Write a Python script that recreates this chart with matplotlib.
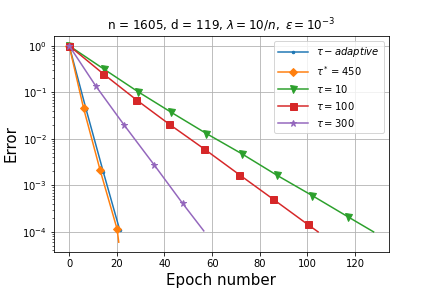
import matplotlib
matplotlib.use("Agg")
import matplotlib.pyplot as plt
import numpy as np

# Data (epoch, error)
adaptive_x = [0, 7.1, 14.3, 21.2]
adaptive_y = [1.0, 4.3e-2, 1.95e-3, 1.1e-4]

star_x = [0, 6.0, 13.0, 20.1, 20.8]
star_y = [1.0, 4.6e-2, 2.1e-3, 1.15e-4, 6.0e-5]

t10_x = [0, 14.4, 28.9, 42.9, 57.6, 72.4, 87.2, 102.1, 117.1, 127.8]
t10_y = [1.0, 3.2e-1, 1.03e-1, 3.7e-2, 1.3e-2, 4.8e-3, 1.65e-3, 6.0e-4, 2.1e-4, 1.0e-4]

t100_x = [0, 14.3, 28.2, 41.8, 56.8, 71.4, 85.5, 100.1, 104.5]
t100_y = [1.0, 2.5e-1, 6.9e-2, 2.1e-2, 6.0e-3, 1.7e-3, 5.1e-4, 1.45e-4, 1.0e-4]

t300_x = [0, 11.1, 23.0, 35.8, 47.6, 56.5]
t300_y = [1.0, 1.38e-1, 2.0e-2, 2.7e-3, 4.1e-4, 1.05e-4]

labels = [r'$\tau-adaptive$', r'$\tau^*=450$', r'$\tau=10$', r'$\tau=100$', r'$\tau=300$']

fig = plt.figure(figsize=(6, 4), dpi=72)
ax = fig.add_axes([0.125, 0.125, 0.775, 0.75])

ax.plot(adaptive_x, adaptive_y, color='C0', marker='.', markersize=5, label=labels[0])
ax.plot(star_x, star_y, color='C1', marker='D', markersize=6, markevery=[0, 1, 2, 3], label=labels[1])
ax.plot(t10_x, t10_y, color='C2', marker='v', markersize=7, markevery=list(range(9)), label=labels[2])
ax.plot(t100_x, t100_y, color='C3', marker='s', markersize=7, markevery=list(range(8)), label=labels[3])
ax.plot(t300_x, t300_y, color='C4', marker='*', markersize=7, markevery=list(range(5)), label=labels[4])

ax.set_yscale('log')
ax.grid(True)
ax.set_xlabel('Epoch number', fontsize=15)
ax.set_ylabel('Error', fontsize=15)
ax.set_title(r'n = 1605, d = 119, $\lambda = 10/n, \ \varepsilon = 10^{-3}$', fontsize=12)
ax.legend(loc='upper right', fontsize=10, handlelength=3)

fig.savefig('out.png', dpi=72)
